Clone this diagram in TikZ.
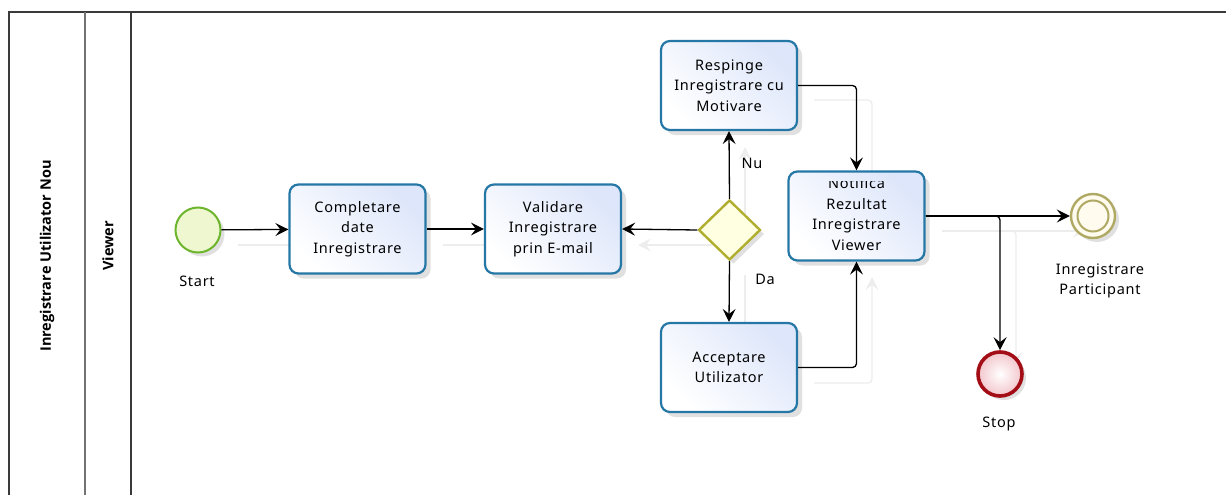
\documentclass[tikz,border=0pt]{standalone}
\usepackage{fontspec}
\setmainfont{Noto Sans}
\newfontfamily\lanefont{Open Sans}
\usetikzlibrary{arrows.meta,shapes.geometric,shadows}

\definecolor{taskline}{HTML}{2577A6}
\definecolor{taskfill}{HTML}{DDE6FA}
\definecolor{startline}{HTML}{6DB52C}
\definecolor{startfill}{HTML}{EEF7CF}
\definecolor{gateline}{HTML}{B0AE2E}
\definecolor{gatefill}{HTML}{FFFFE2}
\definecolor{endline}{HTML}{AFA964}
\definecolor{endfill}{HTML}{FFFBEF}
\definecolor{stopline}{HTML}{A30E16}
\definecolor{stopfill}{HTML}{F2C6CC}
\definecolor{poolline}{HTML}{3A3A3A}
\definecolor{ghost}{HTML}{EDEDED}

\tikzset{
  txt/.style={font=\fontsize{14.5}{20.5}\selectfont\addfontfeatures{LetterSpace=5}, text=black},
  task/.style={rectangle, rounded corners=9pt, draw=taskline, line width=2.2pt,
    left color=white, right color=taskfill, shading angle=135,
    minimum width=136pt, minimum height=89pt, align=center, txt,
    drop shadow={shadow xshift=5pt, shadow yshift=-5pt, opacity=0.12, fill=black}},
  startev/.style={circle, draw=startline, line width=2pt, fill=startfill,
    minimum size=45pt, inner sep=0pt,
    drop shadow={shadow xshift=4pt, shadow yshift=-4pt, opacity=0.12, fill=black}},
  endev/.style={circle, draw=endline, line width=2.4pt, fill=endfill,
    minimum size=44pt, inner sep=0pt,
    drop shadow={shadow xshift=4pt, shadow yshift=-4pt, opacity=0.12, fill=black}},
  stopev/.style={circle, draw=stopline, line width=3.6pt,
    inner color=white, outer color=stopfill,
    minimum size=44pt, inner sep=0pt,
    drop shadow={shadow xshift=4pt, shadow yshift=-4pt, opacity=0.12, fill=black}},
  gate/.style={diamond, draw=gateline, line width=2.4pt, fill=gatefill,
    minimum width=62pt, minimum height=60pt, inner sep=0pt,
    drop shadow={shadow xshift=4pt, shadow yshift=-4pt, opacity=0.12, fill=black}},
  tip/.style={-{Stealth[length=13pt,width=13pt,inset=5pt]}},
  flow/.style={draw=black, line width=1.3pt, rounded corners=4pt, tip},
  ghostflow/.style={draw=ghost, line width=1.3pt, rounded corners=4pt, tip},
  lbl/.style={txt, inner sep=0pt},
  lanetxt/.style={font=\lanefont\fontsize{14.5}{16}\selectfont\bfseries, rotate=90, inner sep=0pt}
}

\begin{document}
\begin{tikzpicture}[x=1pt, y=-1pt]
\useasboundingbox (0,0) rectangle (1226,495);

% pool and lane frame
\draw[poolline, line width=1.2pt] (9,495) -- (9,12) -- (1226,12);
\draw[black!55, line width=1.2pt] (85,12) -- (85,495);
\draw[poolline, line width=1.2pt] (131,12) -- (131,495);
\node[lanetxt] (pool) at (47,256) {Inregistrare Utilizator Nou};
\node[lanetxt] (lane) at (108,246) {Viewer};

% faint shadows of the sequence flows
\begin{scope}[shift={(16,15)}]
  \draw[ghostflow] (222,230) -- (288,230);
  \draw[ghostflow] (427,230) -- (484,230);
  \draw[ghostflow] (698,230) -- (622,230);
  \draw[ghostflow] (729,200) -- (729,132);
  \draw[ghostflow] (729,260) -- (729,322);
  \draw[ghostflow] (798,85) -| (856,170);
  \draw[ghostflow] (798,368) -| (856,262);
  \draw[ghostflow] (926,216) -- (1070,216);
  \draw[ghostflow] (926,216) -| (1000,350);
\end{scope}

% events, tasks and gateway
\node[startev] (start) at (198,230) {};
\node[lbl] (startlbl) at (197,281) {Start};

\node[task] (compl) at (357.5,229) {Completare\\date\\Inregistrare};
\node[task] (valid) at (553,229) {Validare\\Inregistrare\\prin E-mail};
\node[gate] (gw) at (729.5,230) {};
\node[task] (resp) at (729,85.5) {Respinge\\Inregistrare cu\\Motivare};
\node[task] (acc) at (729,367.5) {Acceptare\\Utilizator};
\node[task] (notif) at (856.5,216) {};
\begin{scope}
  \clip (790,181.5) rectangle (924,260);
  \node[lbl, align=center] (notiftxt) at (856.5,214) {Notifica\\Rezultat\\Inregistrare\\Viewer};
\end{scope}

\node[endev] (endp) at (1093,216) {};
\draw[endline, line width=2pt] (endp.center) circle (15.5pt);
\node[lbl, align=center] (endlbl) at (1100,281) {Inregistrare\\Participant};

\node[stopev] (stop) at (1000,374) {};
\node[lbl] (stoplbl) at (999,424) {Stop};

% sequence flows
\draw[flow] (start) -- (compl);
\draw[flow] (compl) -- (valid);
\draw[flow] (gw.west) -- (valid.east);
\draw[flow] (gw.north) -- (resp.south);
\draw[flow] (gw.south) -- (acc.north);
\draw[flow] (resp.east) -| (notif.north);
\draw[flow] (acc.east) -| (notif.south);
\draw[flow] (notif.east) -- (endp.west);
\draw[flow] (notif.east) -| (stop.north);

% gateway branch labels
\node[lbl] (nu) at (752,163) {Nu};
\node[lbl] (da) at (765,279) {Da};
\end{tikzpicture}
\end{document}
